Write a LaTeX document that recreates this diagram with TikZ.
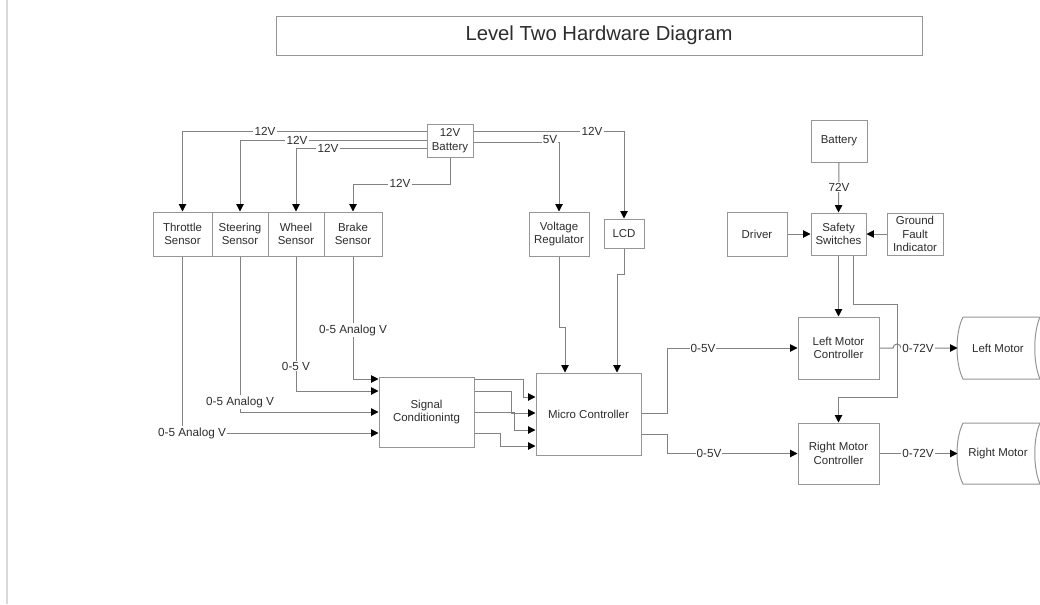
\documentclass[tikz,border=0pt]{standalone}
\usepackage{fontspec}
\setmainfont{Liberation Sans}
\usetikzlibrary{arrows.meta,fit,calc}
\definecolor{wirec}{RGB}{130,130,130}
\definecolor{boxc}{RGB}{150,150,150}
\definecolor{txtc}{RGB}{45,45,45}
\tikzset{
  box/.style={draw=boxc, line width=0.75pt, inner sep=0pt},
  txt/.style={align=center, text=txtc, inner sep=0pt, font=\fontsize{8.6}{10.3}\selectfont},
  wire/.style={draw=wirec, line width=0.75pt},
  arr/.style={wire, -{Triangle[length=5.5pt,width=5.5pt,color=black]}},
  lab/.style={fill=white, inner sep=0.8pt, text=txtc, font=\fontsize{8.8}{10}\selectfont},
}
\newcommand{\boxnode}[4]{\node[box, fit={#2 #3}, label={[txt]center:{#4}}] (#1) {};}
\begin{document}
\begin{tikzpicture}[x=0.75pt,y=-0.75pt]
\useasboundingbox (0,0) rectangle (1040,604);
\fill[white] (0,0) rectangle (1040,604);
\draw[draw=black!15, line width=1.2pt] (7,0) -- (7,604);

% title
\node[box, fit={(276,16) (922,55)}, label={[txt, font=\fontsize{15.2}{18}\selectfont]center:{Level Two Hardware Diagram}}] (title) {};

% nodes
\boxnode{bat12}{(427,124)}{(473,157)}{12V\\Battery}
\boxnode{thr}{(153,212)}{(212,256)}{Throttle\\Sensor}
\boxnode{ste}{(212,212)}{(268,256)}{Steering\\Sensor}
\boxnode{whl}{(268,212)}{(324,256)}{Wheel\\Sensor}
\boxnode{brk}{(324,212)}{(382,256)}{Brake\\Sensor}
\boxnode{vr}{(529,212)}{(589,256)}{Voltage\\Regulator}
\boxnode{lcd}{(604,219)}{(644,248)}{LCD}
\boxnode{bat72}{(811,120)}{(867,162)}{Battery}
\boxnode{saf}{(811,213)}{(866,255)}{Safety\\Switches}
\boxnode{drv}{(727,212)}{(787,256)}{Driver}
\boxnode{gfi}{(887,213)}{(943,255)}{Ground\\Fault\\Indicator}
\boxnode{sc}{(379,377)}{(474,447)}{Signal\\Conditionintg}
\boxnode{mc}{(536,373)}{(641,455)}{Micro Controller}
\boxnode{lmc}{(798,317)}{(879,379)}{Left Motor\\Controller}
\boxnode{rmc}{(798,423)}{(879,484)}{Right Motor\\Controller}

% motors (stored-data shapes)
\draw[draw=boxc, line width=0.75pt] (963,317) -- (1040,317) .. controls (1033,333) and (1033,363) .. (1040,379) -- (963,379) .. controls (955,363) and (955,333) .. (963,317);
\draw[draw=boxc, line width=0.75pt] (963,423) -- (1040,423) .. controls (1033,439) and (1033,468) .. (1040,484) -- (963,484) .. controls (955,468) and (955,439) .. (963,423);
\node[box, draw=none, fit={(958,317) (1038,379)}, label={[txt]center:{Left Motor}}] (lm) {};
\node[box, draw=none, fit={(958,423) (1038,484)}, label={[txt]center:{Right Motor}}] (rm) {};

% 12V battery distribution
\draw[arr] (bat12.west |- 0,131) -| (thr.north);
\draw[arr] (bat12.west |- 0,140) -| (ste.north);
\draw[arr] (bat12.west |- 0,148) -| (whl.north);
\draw[arr] (bat12.south) -- (bat12.south |- 0,184) -| (brk.north);
\draw[arr] (bat12.east |- 0,131) -| (lcd.north);
\draw[arr] (bat12.east |- 0,142) -| (vr.north);
\node[lab] (l1) at (265,131) {12V};
\node[lab] (l2) at (297,140) {12V};
\node[lab] (l3) at (328,148) {12V};
\node[lab] (l4) at (400,183) {12V};
\node[lab] (l5) at (592,131) {12V};
\node[lab] (l6) at (550,140) {5V};

% traction side
\draw[arr] (bat72.south) -- (saf.north);
\node[lab] (l7) at (839,187) {72V};
\draw[arr] (drv.east) -- (saf.west);
\draw[arr] (gfi.west) -- (saf.east);
\draw[arr] (saf.south) -- (lmc.north);
\draw[arr] (saf.south -| 853,0) |- (897,304) -- (897,397) -| (rmc.north);

% motor controller outputs
\draw[arr] (lmc.east) -- (893,348) arc (180:360:4) -- (lm.west);
\draw[arr] (rmc.east) -- (rm.west);
\node[lab] (l8) at (918,348) {0-72V};
\node[lab] (l9) at (918,453) {0-72V};

% micro controller outputs
\draw[arr] (mc.east |- 0,413) -- (667,413) |- (lmc.west);
\draw[arr] (mc.east |- 0,434) -- (667,434) |- (rmc.west);
\node[lab] (l10) at (703,348) {0-5V};
\node[lab] (l11) at (709,453.5) {0-5V};

% regulator and LCD to micro controller
\draw[arr] (vr.south) -- (vr.south |- 0,327) -- (565,327) -- (mc.north -| 565,0);
\draw[arr] (lcd.south) -- (lcd.south |- 0,274) -- (617,274) -- (mc.north -| 617,0);

% sensors to signal conditioning
\draw[arr] (brk.south) |- (sc.west |- 0,379);
\draw[arr] (whl.south) |- (sc.west |- 0,391);
\draw[arr] (ste.south) |- (sc.west |- 0,412);
\draw[arr] (thr.south) |- (sc.west |- 0,433);
\node[lab] (l12) at (brk.south |- 0,330) {0-5 Analog V};
\node[lab] (l13) at (whl.south |- 0,366) {0-5 V};
\node[lab] (l14) at (ste.south |- 0,402) {0-5 Analog V};
\node[lab] (l15) at (192,433) {0-5 Analog V};

% signal conditioning to micro controller
\draw[arr] (sc.east |- 0,379) -- (523,379) -- (523,397) -- (mc.west |- 0,397);
\draw[arr] (sc.east |- 0,391) -- (511,391) -- (511,413) -- (mc.west |- 0,413);
\draw[arr] (sc.east |- 0,412) -- (514,412) -- (514,430) -- (mc.west |- 0,430);
\draw[arr] (sc.east |- 0,433) -- (500,433) -- (500,446) -- (mc.west |- 0,446);
\end{tikzpicture}
\end{document}
